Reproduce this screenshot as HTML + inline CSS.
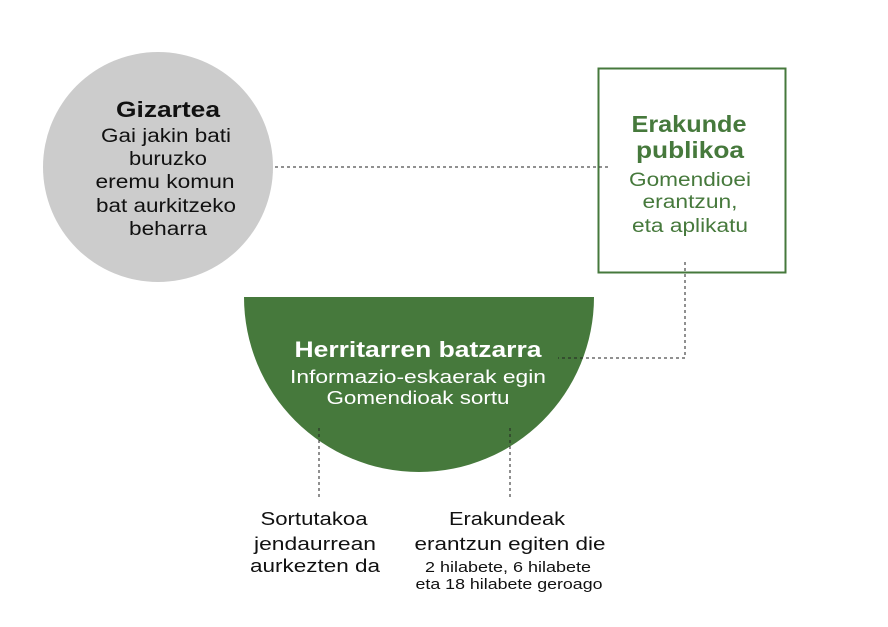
<!DOCTYPE html>
<html><head><meta charset="utf-8"><style>
body{margin:0;background:#fff}
text{font-family:"Liberation Sans",sans-serif}
</style></head><body>
<svg width="888" height="622" viewBox="0 0 888 622" xmlns="http://www.w3.org/2000/svg">
<circle cx="158" cy="167" r="115" fill="#cccccc"/>
<rect x="598.5" y="68.5" width="187" height="204" fill="#fff" stroke="#46793c" stroke-width="2"/>
<path d="M244 297 L594 297 A175 175 0 0 1 244 297 Z" fill="#46793c"/>
<g stroke="#222" stroke-width="1" stroke-dasharray="3,3" fill="none">
<line x1="275" y1="167" x2="610" y2="167"/>
<polyline points="685,262 685,358 558,358"/>
<line x1="319" y1="428" x2="319" y2="497"/>
<line x1="510" y1="428" x2="510" y2="497"/>
</g>
<g text-anchor="middle" fill="#111" font-size="19">
<text x="168" y="117" font-weight="bold" font-size="22" textLength="104" lengthAdjust="spacingAndGlyphs">Gizartea</text>
<text x="166" y="142" textLength="130" lengthAdjust="spacingAndGlyphs">Gai jakin bati</text>
<text x="168" y="165" textLength="78" lengthAdjust="spacingAndGlyphs">buruzko</text>
<text x="165" y="188" textLength="139" lengthAdjust="spacingAndGlyphs">eremu komun</text>
<text x="166" y="212" textLength="140" lengthAdjust="spacingAndGlyphs">bat aurkitzeko</text>
<text x="168" y="235" textLength="78" lengthAdjust="spacingAndGlyphs">beharra</text>
</g>
<g text-anchor="middle" fill="#46793c" font-size="19">
<text x="689" y="132" font-weight="bold" font-size="23" textLength="115" lengthAdjust="spacingAndGlyphs">Erakunde</text>
<text x="690" y="158" font-weight="bold" font-size="23" textLength="108" lengthAdjust="spacingAndGlyphs">publikoa</text>
<text x="690" y="186" textLength="122" lengthAdjust="spacingAndGlyphs">Gomendioei</text>
<text x="690" y="208" textLength="95" lengthAdjust="spacingAndGlyphs">erantzun,</text>
<text x="690" y="232" textLength="116" lengthAdjust="spacingAndGlyphs">eta aplikatu</text>
</g>
<g text-anchor="middle" fill="#fff">
<text x="418" y="357" font-weight="bold" font-size="22" textLength="247" lengthAdjust="spacingAndGlyphs">Herritarren batzarra</text>
<text x="418" y="383" font-size="18" textLength="256" lengthAdjust="spacingAndGlyphs">Informazio-eskaerak egin</text>
<text x="418" y="404" font-size="18" textLength="183" lengthAdjust="spacingAndGlyphs">Gomendioak sortu</text>
</g>
<g text-anchor="middle" fill="#111" font-size="18">
<text x="314" y="525" textLength="107" lengthAdjust="spacingAndGlyphs">Sortutakoa</text>
<text x="315" y="550" textLength="122" lengthAdjust="spacingAndGlyphs">jendaurrean</text>
<text x="315" y="572" textLength="130" lengthAdjust="spacingAndGlyphs">aurkezten da</text>
<text x="507" y="525" textLength="116" lengthAdjust="spacingAndGlyphs">Erakundeak</text>
<text x="510" y="550" textLength="191" lengthAdjust="spacingAndGlyphs">erantzun egiten die</text>
<text x="508" y="572" font-size="15" textLength="166" lengthAdjust="spacingAndGlyphs">2 hilabete, 6 hilabete</text>
<text x="509" y="589" font-size="15" textLength="187" lengthAdjust="spacingAndGlyphs">eta 18 hilabete geroago</text>
</g>
</svg>
</body></html>
